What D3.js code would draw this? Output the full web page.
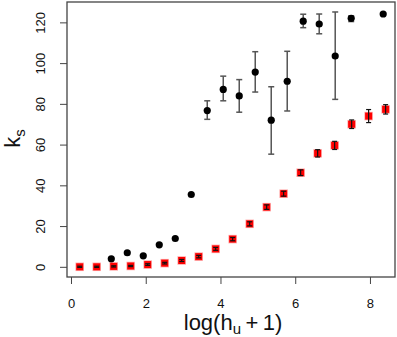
<!DOCTYPE html>
<html>
<head>
<meta charset="utf-8">
<script src="https://cdn.jsdelivr.net/npm/d3@7"></script>
<style>
  body { margin: 0; background: #fff; }
  svg { display: block; font-family: "Liberation Sans", Arial, sans-serif; }
</style>
</head>
<body>
<svg id="chart" width="397" height="337"></svg>
<script>
// red series: evenly spaced x, small error bars
const redX = [0.233, 0.688, 1.143, 1.597, 2.052, 2.507, 2.962, 3.417, 3.871, 4.326,
  4.781, 5.236, 5.690, 6.145, 6.600, 7.055, 7.510, 7.964, 8.419];
const redY = [0, 0, 0.2, 0.4, 1.1, 1.8, 3.1, 5.0, 8.8, 13.6,
  21.1, 29.3, 35.9, 46.2, 55.7, 59.6, 70.0, 74.0, 77.3];
const redErr = [0.3, 0.3, 0.3, 0.3, 0.4, 0.4, 0.5, 0.6, 0.7, 0.8,
  1.0, 1.1, 1.2, 1.4, 1.8, 2.0, 2.1, 3.2, 2.3];

// black series (one slot near x=7.9 has no value)
const blackX = [1.078, 1.506, 1.934, 2.362, 2.790, 3.218, 3.646, 4.074, 4.502, 4.930,
  5.358, 5.786, 6.214, 6.642, 7.070, 7.498, 8.354];
const blackY = [3.9, 6.9, 5.4, 10.8, 13.9, 35.5, 76.7, 87.1, 83.9, 95.6,
  72.0, 91.1, 120.6, 119.2, 103.5, 122.0, 124.1];
const blackLo = [3.9, 6.9, 5.4, 10.8, 13.9, 35.5, 72.4, 81.5, 75.9, 85.8,
  55.3, 76.5, 117.4, 114.4, 82.2, 120.4, 124.1];
const blackHi = [3.9, 6.9, 5.4, 10.8, 13.9, 35.5, 81.5, 93.6, 91.9, 105.6,
  88.4, 105.8, 124.0, 124.1, 125.1, 123.2, 124.1];

const xTicks = [0, 2, 4, 6, 8];
const yTicks = [0, 20, 40, 60, 80, 100, 120];

const svg = d3.select('#chart');
const box = { left: 67, right: 395, top: 2, bottom: 277 };

const x = d3.scaleLinear().domain([-0.107, 8.67]).range([box.left, box.right]);
const y = d3.scaleLinear().domain([-5, 130]).range([box.bottom, box.top]);

const axisColor = '#444';

// x axis
const xAxis = svg.append('g')
  .attr('transform', `translate(0,${box.bottom})`)
  .call(d3.axisBottom(x).tickValues(xTicks).tickSize(7).tickPadding(15).tickSizeOuter(0));
xAxis.select('.domain').remove();
xAxis.selectAll('line').attr('stroke', axisColor);
xAxis.selectAll('text').style('font-size', '13px').attr('fill', '#111');

// y axis, labels turned like R's default
const yAxis = svg.append('g')
  .attr('transform', `translate(${box.left},0)`)
  .call(d3.axisLeft(y).tickValues(yTicks).tickSize(7).tickSizeOuter(0));
yAxis.select('.domain').remove();
yAxis.selectAll('line').attr('stroke', axisColor);
yAxis.selectAll('text')
  .style('font-size', '13px')
  .attr('fill', '#111')
  .attr('text-anchor', 'middle')
  .attr('dy', null)
  .attr('x', null)
  .attr('transform', 'translate(-25,0) rotate(-90)')
  .attr('dominant-baseline', 'middle');

// plot frame
svg.append('rect')
  .attr('x', box.left).attr('y', box.top)
  .attr('width', box.right - box.left).attr('height', box.bottom - box.top)
  .attr('fill', 'none').attr('stroke', axisColor).attr('stroke-width', 1.3);

// axis titles
const xt = svg.append('text')
  .attr('x', (box.left + box.right) / 2 + 2).attr('y', 330)
  .attr('text-anchor', 'middle')
  .style('font-size', '22px').attr('fill', '#111');
xt.append('tspan').text('log(h');
xt.append('tspan').attr('dy', 4).style('font-size', '15px').text('u');
xt.append('tspan').attr('dy', -4).text('\u2009+\u20091)');

const yt = svg.append('text')
  .attr('transform', `translate(20,${(box.top + box.bottom) / 2 - 1}) rotate(-90)`)
  .attr('text-anchor', 'middle')
  .style('font-size', '22px').attr('fill', '#111');
yt.append('tspan').text('k');
yt.append('tspan').attr('dy', 5).style('font-size', '15px').text('s');

const cap = 3;

// black error bars then points
const blackData = blackX.map((d, i) => ({ x: d, y: blackY[i], lo: blackLo[i], hi: blackHi[i] }));
const bb = svg.append('g').attr('stroke', '#555').attr('stroke-width', 1.5);
blackData.filter(d => d.hi - d.lo > 0.5).forEach(d => {
  bb.append('line').attr('x1', x(d.x)).attr('x2', x(d.x)).attr('y1', y(d.lo)).attr('y2', y(d.hi));
  bb.append('line').attr('x1', x(d.x) - cap).attr('x2', x(d.x) + cap).attr('y1', y(d.lo)).attr('y2', y(d.lo));
  bb.append('line').attr('x1', x(d.x) - cap).attr('x2', x(d.x) + cap).attr('y1', y(d.hi)).attr('y2', y(d.hi));
});
svg.append('g').selectAll('circle')
  .data(blackData)
  .join('circle')
  .attr('cx', d => x(d.x))
  .attr('cy', d => y(d.y))
  .attr('r', 3.6)
  .attr('fill', '#000');

// red squares then their bars
const redData = redX.map((d, i) => ({ x: d, y: redY[i], e: redErr[i] }));
svg.append('g').selectAll('rect')
  .data(redData)
  .join('rect')
  .attr('x', d => x(d.x) - 3.5)
  .attr('y', d => y(d.y) - 3.5)
  .attr('width', 7).attr('height', 7)
  .attr('fill', '#f00')
  .attr('stroke', 'rgba(255,0,0,0.35)')
  .attr('stroke-width', 1.5);
const rb = svg.append('g').attr('stroke', '#111').attr('stroke-width', 1.2);
redData.forEach(d => {
  rb.append('line').attr('x1', x(d.x)).attr('x2', x(d.x)).attr('y1', y(d.y - d.e)).attr('y2', y(d.y + d.e));
  rb.append('line').attr('x1', x(d.x) - 2.5).attr('x2', x(d.x) + 2.5).attr('y1', y(d.y - d.e)).attr('y2', y(d.y - d.e));
  rb.append('line').attr('x1', x(d.x) - 2.5).attr('x2', x(d.x) + 2.5).attr('y1', y(d.y + d.e)).attr('y2', y(d.y + d.e));
});
</script>
</body>
</html>
